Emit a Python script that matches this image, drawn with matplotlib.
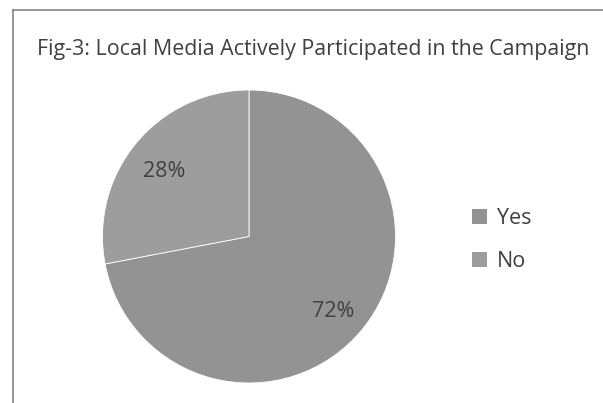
import matplotlib.pyplot as plt
import matplotlib.transforms as mtransforms
from matplotlib.lines import Line2D
from matplotlib.patches import Patch

plt.rcParams['font.family'] = ['Open Sans', 'DejaVu Sans']

# Survey answers
labels = ["Yes", "No"]
shares = [72, 28]
colors = ["#939393", "#9d9d9d"]

W, H = 603, 403
fig = plt.figure(figsize=(W / 100, H / 100), dpi=100)

# chart border (only top and left edges visible)
fig.add_artist(Line2D([13 / W, 1.0], [1 - 10 / H, 1 - 10 / H], color="#858585", lw=1.2))
fig.add_artist(Line2D([13 / W, 13 / W], [0.0, 1 - 10 / H], color="#858585", lw=1.2))

fig.text(313 / W, 1 - 50 / H, "Fig-3: Local Media Actively Participated in the Campaign",
         ha="center", va="center", fontsize=15.4, color="#404040")

ax = fig.add_axes([102 / W, 1 - 383 / H, 294 / W, 293 / H])
wedges, texts, autotexts = ax.pie(
    shares, colors=colors, startangle=90, counterclock=False,
    autopct="%d%%", pctdistance=0.75,
    wedgeprops=dict(edgecolor="white", linewidth=0.6),
    textprops=dict(fontsize=15.5, color="#404040"))
ax.set_aspect("equal")
ax.set_xlim(-1, 1)
ax.set_ylim(-1, 1)
ax.axis("off")

# nudge percentage labels slightly downward
shift = mtransforms.ScaledTranslation(0, -5 / 100, fig.dpi_scale_trans)
for t in autotexts:
    t.set_transform(t.get_transform() + shift)

handles = [Patch(facecolor=c, edgecolor="none") for c in colors]
fig.legend(handles, labels, loc="center left", bbox_to_anchor=(453 / W, 1 - 240 / H),
           frameon=False, fontsize=15.5, labelcolor="#404040",
           handlelength=0.7, handleheight=0.7, handletextpad=0.45, labelspacing=1.05)

fig.savefig("out.png", dpi=100, facecolor="white")
